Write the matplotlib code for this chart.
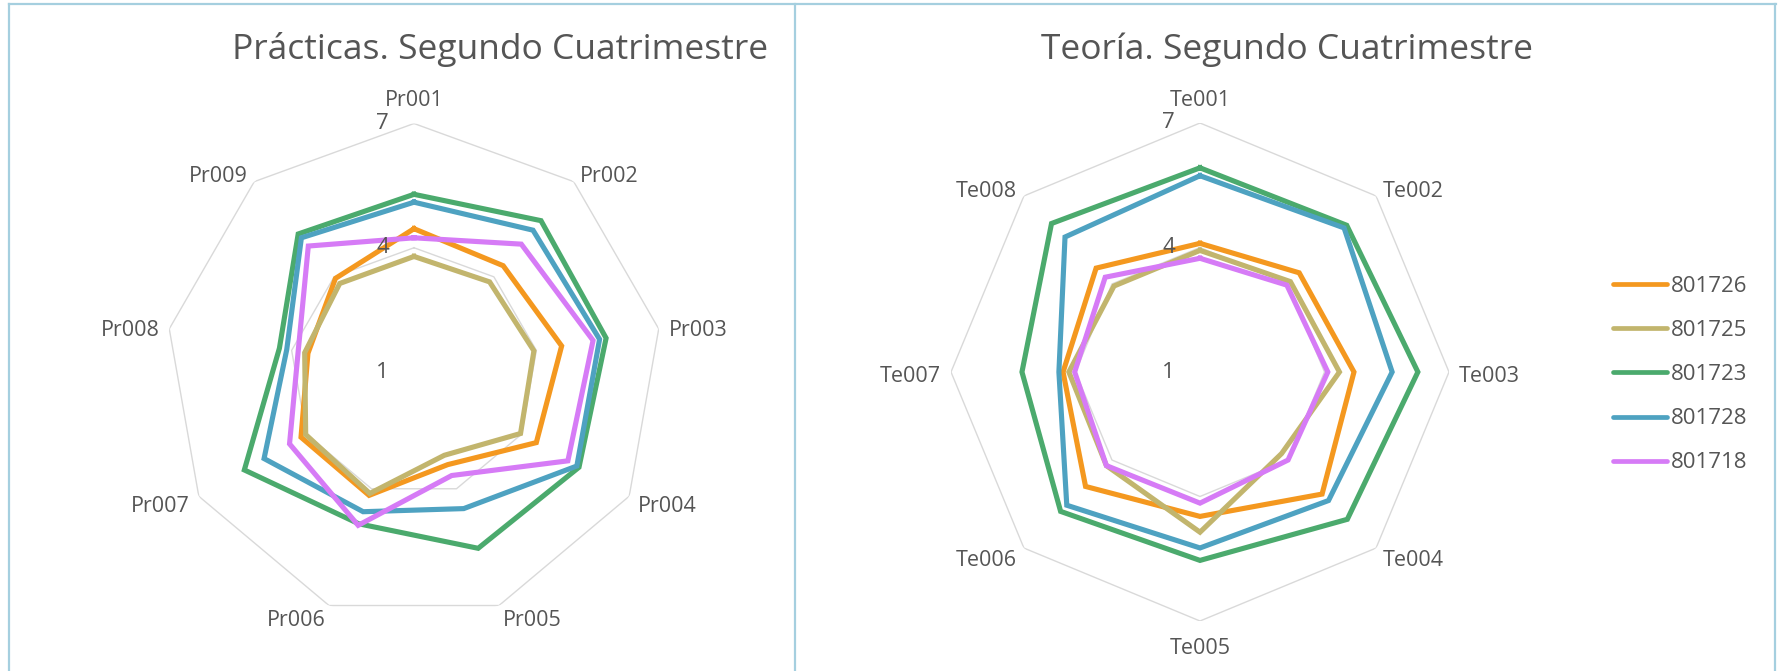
import numpy as np
import matplotlib.pyplot as plt
from matplotlib.lines import Line2D

plt.rcParams['font.family'] = ['Open Sans', 'DejaVu Sans']

W, H = 1779, 671
TXT = '#555555'
GRID = '#D9D9D9'
FRAME = '#A5CFDF'

students = ['801726', '801725', '801723', '801728', '801718']
colors = ['#F4981F', '#C2B56D', '#4BAA6D', '#4EA2C1', '#D67BF6']

# Practicas
pr_labels = ['Pr001', 'Pr002', 'Pr003', 'Pr004', 'Pr005', 'Pr006', 'Pr007', 'Pr008', 'Pr009']
pr_801726 = [4.46, 4.35, 4.62, 4.41, 3.38, 4.17, 4.15, 3.60, 3.95]
pr_801725 = [3.79, 3.84, 3.94, 3.97, 3.14, 4.12, 4.02, 3.68, 3.79]
pr_801723 = [5.29, 5.77, 5.71, 5.60, 5.53, 4.90, 5.73, 4.30, 5.35]
pr_801728 = [5.10, 5.47, 5.55, 5.54, 4.51, 4.59, 5.18, 4.12, 5.23]
pr_801718 = [4.24, 5.03, 5.39, 5.29, 3.66, 4.94, 4.47, 3.84, 4.97]

# Teoria
te_labels = ['Te001', 'Te002', 'Te003', 'Te004', 'Te005', 'Te006', 'Te007', 'Te008']
te_801726 = [4.10, 4.38, 4.71, 5.16, 4.48, 4.90, 4.30, 4.54]
te_801725 = [3.93, 4.08, 4.36, 3.78, 4.86, 4.19, 4.16, 3.93]
te_801723 = [5.92, 6.00, 6.25, 6.02, 5.54, 5.75, 5.29, 6.06]
te_801728 = [5.73, 5.91, 5.63, 5.38, 5.24, 5.54, 4.40, 5.60]
te_801718 = [3.74, 3.96, 4.08, 4.00, 4.16, 4.19, 4.02, 4.23]

scale_ticks = [1, 4, 7]


def box(cx, cy, r):
    # pixel centre / radius -> figure fraction box
    return [(cx - r) / W, (H - cy - r) / H, 2 * r / W, 2 * r / H]


def radar(ax, cats, series):
    n = len(cats)
    ang = np.linspace(0, 2 * np.pi, n, endpoint=False)
    ang_c = np.append(ang, ang[0])
    ax.set_theta_zero_location('N')
    ax.set_theta_direction(-1)
    ax.set_ylim(scale_ticks[0], scale_ticks[-1])
    ax.set_xticks([])
    ax.set_yticks([])
    ax.grid(False)
    ax.spines['polar'].set_visible(False)
    ax.patch.set_alpha(0)
    for lev in scale_ticks[1:]:
        ax.plot(ang_c, [lev] * (n + 1), color=GRID, lw=1.0, zorder=1)
    lines = []
    for vals, c in zip(series, colors):
        ln, = ax.plot(ang_c, list(vals) + [vals[0]], color=c, lw=3.7,
                      solid_joinstyle='miter', zorder=3)
        lines.append(ln)
    for a, lab in zip(ang, cats):
        s, co = np.sin(a), np.cos(a)
        ha = 'left' if s > 0.1 else ('right' if s < -0.1 else 'center')
        if co > 0.99:
            va, dy = 'bottom', 12
        elif co < -0.99:
            va, dy = 'top', -17
        else:
            va, dy = 'center', 12 * co - 4
        ax.annotate(lab, xy=(a, scale_ticks[-1]), xytext=(10 * s, dy),
                    textcoords='offset pixels', ha=ha, va=va, fontsize=15.5,
                    color=TXT, annotation_clip=False)
    for lev in scale_ticks:
        ax.annotate(str(lev), xy=(0, lev), xytext=(-25, 0), textcoords='offset pixels',
                    ha='right', va='center', fontsize=16, color=TXT,
                    annotation_clip=False, zorder=5)
    return lines


fig = plt.figure(figsize=(W / 100, H / 100), dpi=100)

ax1 = fig.add_axes(box(414, 372, 248.5), projection='polar')
radar(ax1, pr_labels, [pr_801726, pr_801725, pr_801723, pr_801728, pr_801718])

ax2 = fig.add_axes(box(1200, 372, 249), projection='polar')
lines = radar(ax2, te_labels, [te_801726, te_801725, te_801723, te_801728, te_801718])

fig.text(500 / W, 1 - 59 / H, 'Prácticas. Segundo Cuatrimestre', ha='center',
         va='baseline', fontsize=25.5, color=TXT)
fig.text(1287 / W, 1 - 59 / H, 'Teoría. Segundo Cuatrimestre', ha='center',
         va='baseline', fontsize=25.5, color=TXT)

handles = [Line2D([], [], color=c, lw=3.4, solid_capstyle='round') for c in colors]
fig.legend(handles, students, loc='upper left', bbox_to_anchor=(1613 / W, 1 - 276 / H),
           frameon=False, fontsize=16, labelcolor=TXT, handlelength=2.45,
           handletextpad=0.15, labelspacing=1.04, borderpad=0, borderaxespad=0)

# chart area borders
for xs, ys in [([9, 1776], [4, 4]), ([9, 9], [4, 671]), ([795, 795], [4, 671]),
               ([1775, 1775], [4, 671])]:
    fig.add_artist(Line2D([x / W for x in xs], [1 - y / H for y in ys],
                          color=FRAME, lw=1.6, transform=fig.transFigure))

fig.savefig('out.png', dpi=100, facecolor='white')
